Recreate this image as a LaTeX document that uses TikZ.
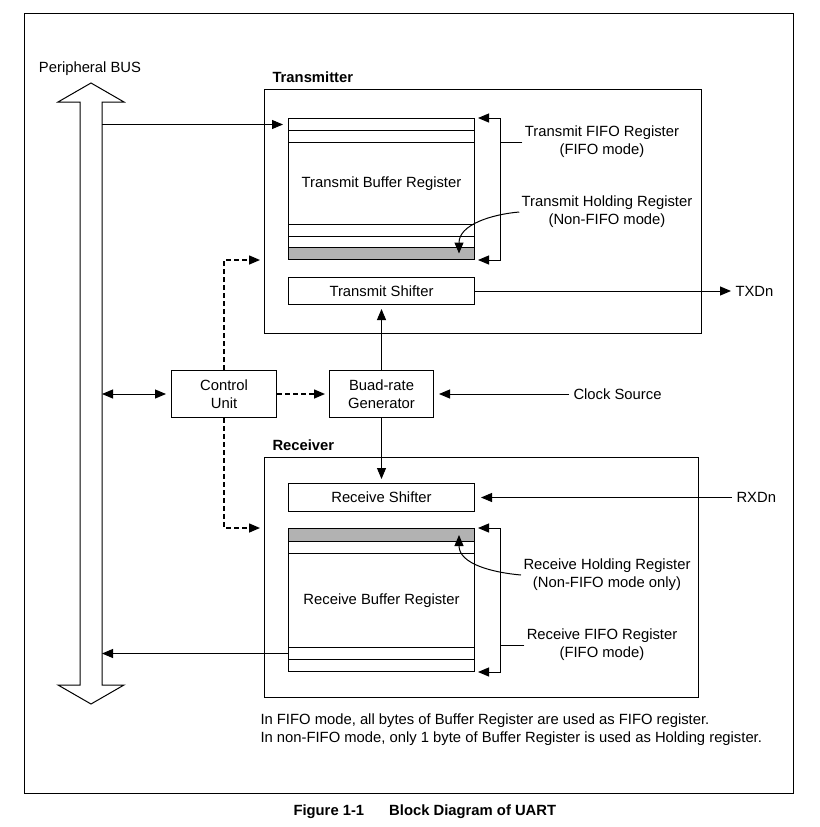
\documentclass[tikz,border=0pt]{standalone}
\usepackage{fontspec}
\setmainfont{Liberation Sans}
\usetikzlibrary{arrows.meta}

\begin{document}
\begin{tikzpicture}[x=1pt, y=-1pt, line width=1pt,
	font=\fontsize{14.8}{18}\selectfont,
	>={Triangle[length=11pt,width=9pt]},
	row/.style={draw, inner sep=0pt, anchor=north west, minimum width=186pt},
	blk/.style={draw, inner sep=0pt, align=center, anchor=north west},
	lbl/.style={align=center, inner sep=2pt},
	sig/.style={anchor=west, inner sep=4pt},
	dashpath/.style={line width=1.5pt, dash pattern=on 5pt off 3pt, shorten >=4pt}]
	\useasboundingbox (0,0) rectangle (819,827);
	\draw (24,13) rectangle (793,793);
	
	\draw (90,69) node (bustxt) {Peripheral BUS};
	\draw (91,83) -- (124,102) -- (102,102) -- (102,685) -- (124,685) -- (91,704)
		-- (58,685) -- (80,685) -- (80,102) -- (58,102) -- cycle;
	\coordinate (bus) at (102,0);
	
	\draw (272,77) node[anchor=west, inner sep=0pt] (txtitle) {\bfseries Transmitter};
	\draw (264,89) node[blk, minimum width=437pt, minimum height=244pt] (txbox) {};
	
	\draw (288,118) node[row, minimum height=12pt] (txf1) {};
	\draw (288,130) node[row, minimum height=12pt] (txf2) {};
	\draw (288,142) node[row, minimum height=82pt] (txmain) {Transmit Buffer Register};
	\draw (288,224) node[row, minimum height=12pt] (txf3) {};
	\draw (288,236) node[row, minimum height=11pt] (txf4) {};
	\draw (288,247) node[row, minimum height=12pt, fill=black!30] (txhold) {};
	
	\draw (288,277) node[row, minimum height=27pt] (txshift) {Transmit Shifter};
	
	\draw (602,142) node[lbl] (txfifo) {Transmit FIFO Register\\(FIFO mode)};
	\draw (607,212) node[lbl] (txhl) {Transmit Holding Register\\(Non-FIFO mode)};
	\draw (731,291) node[sig] (txd) {TXDn};
	
	\coordinate (txbr) at (500,0);
	\draw [<->, shorten <=3pt, shorten >=3pt] (txf1.north east) -- (txf1.north east -| txbr)
		|- (txhold.south east);
	\draw (txfifo.west) -- (txfifo.west -| txbr);
	\draw [->] (txhl.west) to[out=185, in=90] ([xshift=-16pt]txhold.east);
	
	\draw (171,370) node[blk, minimum width=105pt, minimum height=47pt] (ctrl) {Control\\Unit};
	\draw (329,370) node[blk, minimum width=104pt, minimum height=47pt] (gen) {Buad-rate\\Generator};
	\draw (569,394) node[sig] (clk) {Clock Source};
	
	\draw (272,445) node[anchor=west, inner sep=0pt] (rxtitle) {\bfseries Receiver};
	\draw (264,457) node[blk, minimum width=434pt, minimum height=240pt] (rxbox) {};
	
	\draw (288,483) node[row, minimum height=28pt] (rxshift) {Receive Shifter};
	
	\draw (288,528) node[row, minimum height=13pt, fill=black!30] (rxhold) {};
	\draw (288,541) node[row, minimum height=12pt] (rxf1) {};
	\draw (288,553) node[row, minimum height=94pt] (rxmain) {Receive Buffer Register};
	\draw (288,647) node[row, minimum height=12pt] (rxf2) {};
	\draw (288,659) node[row, minimum height=12pt] (rxf3) {};
	
	\draw (607,575) node[lbl] (rxhl) {Receive Holding Register\\(Non-FIFO mode only)};
	\draw (602,645) node[lbl] (rxfifo) {Receive FIFO Register\\(FIFO mode)};
	\draw (732,497.5) node[sig] (rxd) {RXDn};
	
	\coordinate (rxbr) at (500,0);
	\draw [<->, shorten <=3pt, shorten >=3pt] (rxhold.north east) -- (rxhold.north east -| rxbr)
		|- (rxf3.south east);
	\draw (rxfifo.west) -- (rxfifo.west -| rxbr);
	\draw [->] (rxhl.west) to[out=175, in=-90] ([xshift=-16pt]rxhold.east);
	
	\draw [->, shorten >=5pt] (bus |- txf1.west) -- (txf1.west);
	\draw [<->, shorten >=5pt] (bus |- ctrl.west) -- (ctrl.west);
	\draw [->] (rxf2.west) -- (bus |- rxf2.west);
	
	\draw [->, dashpath] (ctrl.north) |- (txbox.west |- txhold.south);
	\draw [->, dashpath] (ctrl.south) |- (rxbox.west |- rxhold.north);
	\draw [->, dashpath] (ctrl.east) -- (gen.west);
	
	\draw [->, shorten >=4pt] (gen.north) -- (txshift.south);
	\draw [->, shorten >=4pt] (gen.south) -- (rxshift.north);
	\draw [->, shorten >=5pt] (clk.west) -- (gen.east);
	\draw [->] (txshift.east) -- (txd.west);
	\draw [->, shorten >=6pt] (rxd.west) -- (rxshift.east);
	
	\draw (258,730) node[anchor=west, align=left, inner sep=2pt] (note)
	{
		In FIFO mode, all bytes of Buffer Register are used as FIFO register.\\
		In non-FIFO mode, only 1 byte of Buffer Register is used as Holding register.
	};
	\draw (293,812) node[anchor=west, inner sep=0pt] (caption)
	{
		\bfseries Figure 1-1\hspace{25pt}Block Diagram of UART
	};
\end{tikzpicture}
\end{document}
